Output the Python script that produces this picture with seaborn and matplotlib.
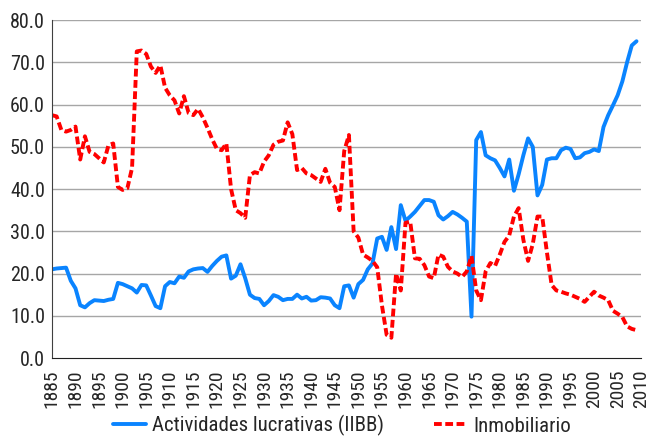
import numpy as np
import pandas as pd
import matplotlib
matplotlib.use("Agg")
import matplotlib.pyplot as plt
import seaborn as sns

# años y series
years = list(range(1885, 2010))

actividades = [
    21.0, 21.2, 21.3, 21.4, 18.3, 16.5, 12.5, 12.0, 13.0, 13.7,
    13.6, 13.5, 13.8, 14.0, 17.8, 17.5, 17.0, 16.5, 15.5, 17.3,
    17.2, 14.8, 12.3, 11.8, 17.0, 18.0, 17.7, 19.3, 19.0, 20.5,
    21.0, 21.2, 21.3, 20.4, 21.8, 23.0, 24.0, 24.3, 18.8, 19.5,
    22.2, 18.9, 15.0, 14.2, 14.0, 12.5, 13.5, 14.9, 14.5, 13.7,
    14.0, 14.0, 15.0, 14.1, 14.5, 13.6, 13.7, 14.4, 14.3, 14.1,
    12.5, 11.8, 17.0, 17.2, 14.3, 17.5, 18.5, 21.0, 22.4, 28.3,
    28.7, 25.6, 31.0, 25.8, 36.2, 32.5, 33.5, 34.6, 36.0, 37.4,
    37.4, 37.0, 33.8, 32.8, 33.6, 34.6, 34.0, 33.2, 32.3, 9.8,
    51.6, 53.5, 48.0, 47.3, 46.8, 45.0, 43.0, 47.0, 39.6, 43.5,
    48.0, 52.0, 50.0, 38.5, 41.0, 47.0, 47.3, 47.3, 49.2, 49.8,
    49.5, 47.3, 47.5, 48.5, 48.8, 49.4, 49.0, 54.7, 57.5, 59.8,
    62.2, 65.5, 70.0, 74.0, 75.0,
]

inmobiliario = [
    57.5, 57.2, 54.0, 53.6, 54.0, 54.8, 47.0, 52.5, 48.8, 48.3,
    47.3, 46.3, 50.4, 50.8, 40.5, 39.8, 40.2, 45.0, 72.6, 72.8,
    72.0, 69.0, 67.5, 69.3, 64.0, 62.2, 61.0, 57.9, 62.0, 58.0,
    57.5, 59.0, 57.0, 54.5, 51.8, 49.5, 49.2, 50.8, 40.0, 35.0,
    34.3, 33.2, 43.3, 44.0, 43.7, 46.5, 48.0, 50.5, 51.2, 51.5,
    55.8, 53.0, 44.5, 45.0, 43.7, 43.3, 42.5, 41.7, 44.8, 41.5,
    40.5, 35.0, 49.0, 52.8, 30.0, 28.5, 24.5, 23.8, 23.0, 21.5,
    12.5, 5.5, 4.8, 20.0, 16.0, 32.0, 32.3, 23.6, 23.5, 22.0,
    19.3, 18.9, 24.5, 24.0, 21.6, 20.5, 20.0, 19.2, 20.5, 24.2,
    16.0, 13.7, 20.5, 22.5, 21.8, 24.5, 27.5, 29.0, 33.5, 35.5,
    28.0, 23.0, 27.0, 33.5, 33.5, 25.0, 17.3, 16.0, 15.7, 15.3,
    15.0, 14.5, 14.0, 13.3, 14.5, 15.7, 14.8, 14.3, 13.7, 11.2,
    10.5, 9.7, 7.5, 6.9, 6.6,
]

df = pd.DataFrame({"year": years, "act": actividades, "inm": inmobiliario})

sns.set_style("white")
plt.rcParams['font.family'] = ['Roboto Condensed', 'Liberation Sans', 'DejaVu Sans']

fig = plt.figure(figsize=(6.49, 4.47), dpi=100)
ax = fig.add_axes([0.080, 0.199, 0.908, 0.756])

# líneas horizontales de la grilla
for v in range(10, 90, 10):
    ax.axhline(v, color="#A6A6A6", lw=1.0, zorder=0)

sns.lineplot(data=df, x="year", y="act", ax=ax, color="#0A84FF", lw=2.8,
             label="Actividades lucrativas (IIBB)", legend=False)
sns.lineplot(data=df, x="year", y="inm", ax=ax, color="#FF0000", lw=2.8,
             linestyle=(0, (2.0, 0.9)), label="Inmobiliario", legend=False)

ax.set_xlim(1885, 2010)
ax.set_ylim(0, 80)
ax.set_xticks(range(1885, 2011, 5))
ax.set_xticklabels([str(y) for y in range(1885, 2011, 5)], rotation=90, fontsize=14)
ax.set_yticks(range(0, 81, 10))
ax.set_yticklabels([f"{v:.1f}" for v in range(0, 81, 10)], fontsize=14.5)
ax.set_xlabel("")
ax.set_ylabel("")

for s in ["top", "right"]:
    ax.spines[s].set_visible(False)
ax.spines["left"].set_color("#404040")
ax.spines["bottom"].set_color("#202020")
ax.tick_params(axis="x", direction="out", length=5, width=1, color="#202020", pad=3)
ax.tick_params(axis="y", direction="out", length=3, width=1, color="#404040", pad=2)

handles, labels = ax.get_legend_handles_labels()
fig.legend(handles, labels, loc="lower center", bbox_to_anchor=(0.527, -0.018),
           ncol=2, frameon=False, fontsize=15, handlelength=1.6,
           handletextpad=0.3, columnspacing=2.4)

fig.savefig("out.png", dpi=100)
